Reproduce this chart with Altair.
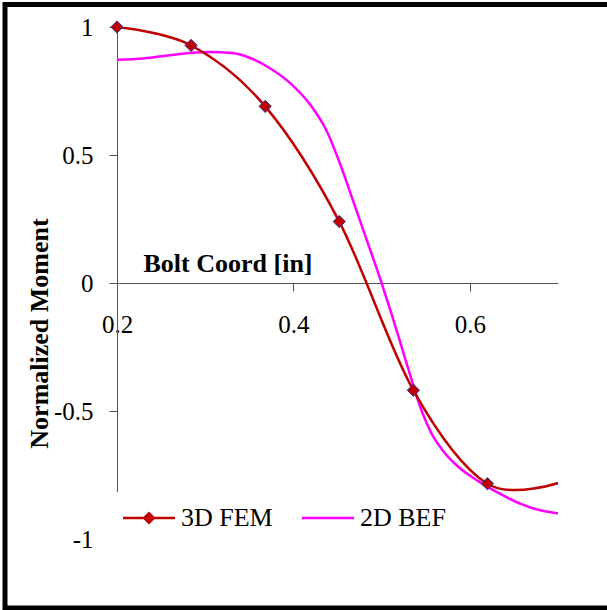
import altair as alt
import pandas as pd

# ---- data ----
fem_x = [0.2, 0.284, 0.368, 0.452, 0.536, 0.62, 0.704]
fem_y = [1.0, 0.928, 0.690, 0.240, -0.419, -0.784, -0.777]

bef_x = [0.200, 0.230, 0.260, 0.285, 0.305, 0.330, 0.351, 0.373, 0.396, 0.419,
         0.438, 0.453, 0.468, 0.484, 0.500, 0.511, 0.521, 0.532, 0.546, 0.557,
         0.568, 0.585, 0.610, 0.634, 0.657, 0.680, 0.700]
bef_y = [0.872, 0.877, 0.890, 0.899, 0.902, 0.898, 0.879, 0.840, 0.782, 0.697,
         0.592, 0.465, 0.318, 0.160, 0.000, -0.118, -0.230, -0.355, -0.505, -0.590,
         -0.648, -0.712, -0.775, -0.823, -0.862, -0.888, -0.900]

series_names = ["3D FEM", "2D BEF"]
series_colors = ["#C00000", "#FF00FF"]
x_ticks = [0.2, 0.4, 0.6]
y_ticks = [-1, -0.5, 0, 0.5, 1]
x_domain = [0.2, 0.7]
y_domain = [-1, 1]

fem = pd.DataFrame({"x": fem_x, "y": fem_y, "series": "3D FEM"})
bef = pd.DataFrame({"x": bef_x, "y": bef_y, "series": "2D BEF"})

FONT = "Liberation Serif"
W, H = 441, 512
AXIS_GREY = "#555555"

xscale = alt.Scale(domain=x_domain, nice=False, zero=False)
yscale = alt.Scale(domain=y_domain, nice=False)

x_axis = alt.Axis(values=x_ticks, offset=-H / 2, format=".1f",
                  title="Bolt Coord [in]", titleX=26, titleY=-12,
                  titleAlign="left", titleBaseline="alphabetic", titleAngle=0,
                  tickSize=8, labelPadding=21, labelFlush=False, labelOverlap=False)
y_axis = alt.Axis(values=y_ticks,
                  labelExpr="(datum.value < 0 ? '-' : '') + format(abs(datum.value), '~g')",
                  title="Normalized Moment", titleX=-78, titleY=306,
                  titleAngle=270, titleAlign="center", titleBaseline="middle",
                  tickColor={"condition": {"test": "datum.value < -0.9", "value": "transparent"},
                             "value": AXIS_GREY},
                  tickSize=8, labelPadding=16, labelFlush=False, labelOverlap=False)

X = alt.X("x:Q", scale=xscale, axis=x_axis)
Y = alt.Y("y:Q", scale=yscale, axis=y_axis)

# legend symbol paths (line + diamond, plain line)
legend_paths = [
    "M-1,-0.05L1,-0.05L1,0.05L-1,0.05Z M0,-0.25L0.25,0L0,0.25L-0.25,0Z",
    "M-1,-0.05L1,-0.05L1,0.05L-1,0.05Z",
]
leg = alt.Legend(orient="none", legendX=-7, legendY=465, direction="horizontal",
                 title=" ", titleOrient="bottom", titleFontSize=10, titlePadding=4,
                 labelFont=FONT, labelFontSize=26, labelColor="black",
                 symbolSize=2704, symbolStrokeWidth=0, symbolOpacity=1,
                 symbolOffset=13, labelOffset=6, columnPadding=16,
                 fillColor="white", padding=0, zindex=1)

frame = alt.Chart(pd.DataFrame({"k": [0]})).mark_rect(
    filled=False, stroke="black", strokeWidth=5
).encode(x=alt.value(-112), x2=alt.value(510), y=alt.value(-22.5), y2=alt.value(581))

bef_line = alt.Chart(bef).mark_line(
    color="#FF00FF", strokeWidth=2.5, interpolate="monotone", clip=True
).encode(x=X, y=Y)

fem_line = alt.Chart(fem).mark_line(
    color="#C00000", strokeWidth=2.5, interpolate="cardinal", clip=True
).encode(x=X, y=Y)

fem_pts = alt.Chart(fem).transform_filter(
    alt.datum.x <= x_domain[1]
).mark_point(shape="diamond", filled=True, fill="#C00000", stroke="#2E3192",
             strokeWidth=1, size=150, opacity=1).encode(x=X, y=Y)

legend_layer = alt.Chart(fem).transform_filter(
    alt.datum.x <= x_domain[1]
).mark_point(filled=True, size=2704, opacity=0).encode(
    x=X, y=Y,
    color=alt.Color("series:N", scale=alt.Scale(domain=series_names, range=series_colors), legend=leg),
    shape=alt.Shape("series:N", scale=alt.Scale(domain=series_names, range=legend_paths), legend=leg),
)

chart = alt.layer(bef_line, fem_line, fem_pts, legend_layer, frame).properties(
    width=W, height=H,
    padding={"left": 117, "top": 27, "right": 49, "bottom": 71},
    autosize=alt.AutoSizeParams(type="none"),
    background="white",
).configure_view(stroke="transparent").configure_axis(
    labelFont=FONT, titleFont=FONT, labelFontSize=25, titleFontSize=26,
    titleFontWeight="bold", labelColor="black", titleColor="black",
    domainColor=AXIS_GREY, tickColor=AXIS_GREY, domainWidth=1, tickWidth=1, grid=False,
)

chart.save("out.html", embed_options={"renderer": "svg", "actions": False})
